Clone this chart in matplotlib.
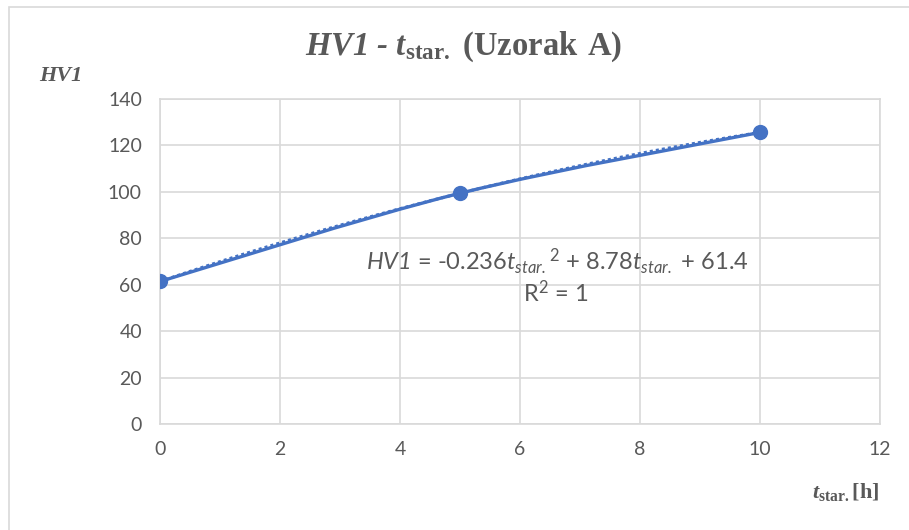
import numpy as np
import matplotlib
matplotlib.use("Agg")
import matplotlib.pyplot as plt
from matplotlib.path import Path
from matplotlib.patches import PathPatch, Rectangle

# data
t_star = [0, 5, 10]
hv1 = [61.4, 99.4, 125.6]
x_ticks = [0, 2, 4, 6, 8, 10, 12]
y_ticks = [0, 20, 40, 60, 80, 100, 120, 140]

BLUE = "#4472C4"
GRAY = "#595959"
GRID = "#D9D9D9"

plt.rcParams["mathtext.fontset"] = "custom"
plt.rcParams["mathtext.default"] = "regular"
plt.rcParams["mathtext.rm"] = "Liberation Serif:bold"
plt.rcParams["mathtext.sf"] = "Lato:italic"

W, H = 909, 530
fig = plt.figure(figsize=(W / 100, H / 100), dpi=100)
ax = fig.add_axes([160 / W, (H - 424) / H, 720 / W, 325 / H])

# excel-like smoothed line (bezier through points)
pts = np.column_stack([t_star, hv1]).astype(float)
verts, codes = [pts[0]], [Path.MOVETO]
for i in range(len(pts) - 1):
    p0 = pts[max(i - 1, 0)]
    p1, p2 = pts[i], pts[i + 1]
    p3 = pts[min(i + 2, len(pts) - 1)]
    c1 = p1 + (p2 - p0) / 6
    c2 = p2 - (p3 - p1) / 6
    verts += [c1, c2, p2]
    codes += [Path.CURVE4] * 3

# polynomial trendline (order 2)
coef = np.polyfit(t_star, hv1, 2)
xt = np.linspace(0, 10, 200)
ax.plot(xt, np.polyval(coef, xt), color=BLUE, lw=2.2, ls=(0, (1, 1)), zorder=3)

ax.add_patch(PathPatch(Path(verts, codes), fill=False, edgecolor=BLUE, lw=2.4, zorder=4))
ax.plot(t_star, hv1, "o", color=BLUE, ms=10, zorder=5)

ax.set_xlim(0, 12)
ax.set_ylim(0, 140)
ax.set_xticks(x_ticks)
ax.set_yticks(y_ticks)
ax.grid(True, color=GRID, lw=1.2)
ax.set_axisbelow(True)
for s in ax.spines.values():
    s.set_color(GRID)
    s.set_linewidth(1.2)
ax.tick_params(length=0, labelsize=14, labelcolor=GRAY)
ax.tick_params(axis="y", pad=13)
ax.tick_params(axis="x", pad=12)
for lab in ax.get_xticklabels() + ax.get_yticklabels():
    lab.set_fontfamily("Lato")

# equation of trendline
eq = (r"$\mathsf{HV1}$ = -0.236$\mathsf{t}_{\mathsf{star.}}$$^{2}$"
      r" + 8.78$\mathsf{t}_{\mathsf{star.}}$ + 61.4")
ax.text(6.63, 69.8, eq, ha="center", va="center", fontsize=17, color=GRAY, family="Lato")
ax.text(6.6, 56.4, r"R$^{2}$ = 1", ha="center", va="center", fontsize=17, color=GRAY, family="Lato")

# title and axis labels (italic bold base text, upright parts via mathrm)
serif = dict(color=GRAY, family="Liberation Serif", weight="bold", style="italic",
             ha="center", va="center")
fig.text(464 / W, 1 - 47 / H,
         r"HV1 - t$_{\mathrm{star.}}$ $\mathrm{(Uzorak\ A)}$",
         fontsize=23.5, **serif)
fig.text(61 / W, 1 - 76 / H, "HV1", fontsize=16, **serif)
fig.text(846 / W, 1 - 492 / H, r"t$_{\mathrm{star.}}\mathrm{[h]}$", fontsize=16, **serif)

# chart border
fig.patches.append(Rectangle((9 / W, -0.1), 1.1, 1 - 7 / H + 0.1, transform=fig.transFigure,
                             fill=False, edgecolor=GRID, lw=1.2))

fig.savefig("out.png", dpi=100)
